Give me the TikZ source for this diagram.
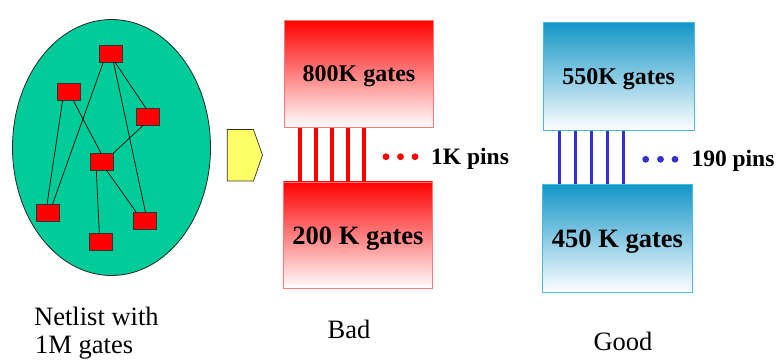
\documentclass[tikz,border=0pt]{standalone}
\usepackage{fontspec}
\setmainfont{Liberation Serif}
\usetikzlibrary{calc,shapes.geometric}

\definecolor{netgreen}{RGB}{0,204,153}
\definecolor{gatered}{RGB}{255,0,0}
\definecolor{redrim}{RGB}{255,120,120}
\definecolor{bluetop}{RGB}{20,150,200}
\definecolor{bluerim}{RGB}{70,185,230}
\definecolor{pinblue}{RGB}{51,51,204}
\definecolor{arrowyellow}{RGB}{255,255,102}

\tikzset{
  cell/.style={draw=black!80, line width=0.6pt, fill=gatered, minimum width=23pt, minimum height=17pt, inner sep=0pt},
  net/.style={draw=black, line width=0.7pt},
  redpart/.style={draw=redrim, line width=0.8pt, top color=gatered, bottom color=white, inner sep=0pt, text depth=0pt},
  bluepart/.style={draw=bluerim, line width=0.8pt, top color=bluetop, bottom color=white, inner sep=0pt, text depth=0pt},
  redpin/.style={draw=gatered, line width=3.6pt},
  bluepin/.style={draw=pinblue, line width=3.6pt},
  caption/.style={inner sep=0pt, anchor=base, font=\fontsize{26.5}{28}\selectfont},
  pinlabel/.style={inner sep=0pt, anchor=base west, font=\fontsize{23.5}{26}\selectfont\bfseries}
}

\begin{document}
\begin{tikzpicture}[x=1pt, y=-1pt]
\useasboundingbox (0,0) rectangle (780,362);

% ---- netlist: a cloud of gates ----
\node[draw=black!85, line width=0.8pt, fill=netgreen, ellipse, minimum width=198pt, minimum height=256pt, inner sep=0pt] (cloud) at (111.5,147.5) {};

\node[cell] (gA) at (110.5,53.7) {};
\node[cell] (gB) at (68.7,92) {};
\node[cell] (gC) at (147.7,116.5) {};
\node[cell] (gD) at (101.5,162) {};
\node[cell] (gE) at (47.3,213) {};
\node[cell] (gF) at (144.5,221) {};
\node[cell] (gG) at (100.7,241.5) {};

\draw[net] ($(gA.south west)!0.19!(gA.south east)$) -- ($(gE.north west)!0.72!(gE.north east)$);
\draw[net] ($(gA.south west)!0.63!(gA.south east)$) -- ($(gF.north west)!0.54!(gF.north east)$);
\draw[net] ($(gA.south west)!0.70!(gA.south east)$) -- ($(gC.north west)!0.41!(gC.north east)$);
\draw[net] ($(gB.south west)!0.24!(gB.south east)$) -- ($(gE.north west)!0.49!(gE.north east)$);
\draw[net] ($(gB.south west)!0.70!(gB.south east)$) -- ($(gD.north west)!0.48!(gD.north east)$);
\draw[net] ($(gC.south west)!0.31!(gC.south east)$) -- (gD.north east);
\draw[net] ($(gD.south west)!0.28!(gD.south east)$) -- ($(gG.north west)!0.44!(gG.north east)$);
\draw[net] ($(gD.south west)!0.73!(gD.south east)$) -- ($(gF.north west)!0.15!(gF.north east)$);

% ---- arrow to the partitions ----
\draw[draw=black!80, line width=0.7pt, fill=arrowyellow]
  (227.3,129.5) -- (253.5,129.5) -- (262.5,155.2) -- (253.5,181) -- (227.3,181) -- cycle;

% ---- bad partition ----
\node[redpart, minimum width=149.4pt, minimum height=107.3pt, font=\fontsize{24}{26}\selectfont\bfseries] (badTop) at (359,73.7) {800K gates};
\node[redpart, minimum width=149.4pt, minimum height=106.7pt, font=\fontsize{26.5}{28}\selectfont\bfseries] (badBot) at (358,235.3) {200 K gates};
\foreach \dx in {16,32,48.2,64.2,80} {
  \path ([xshift=\dx pt]badTop.south west) coordinate (rp);
  \draw[redpin] (rp) -- (rp |- badBot.north);
}
\foreach \px in {386,400.5,415} \fill[gatered] (\px,156.7) circle (3.4pt);
\node[pinlabel] (badPins) at (431,164) {1K pins};

% ---- good partition ----
\node[bluepart, minimum width=150.7pt, minimum height=108pt, font=\fontsize{24}{26}\selectfont\bfseries] (goodTop) at (618.6,76.7) {550K gates};
\node[bluepart, minimum width=149.6pt, minimum height=108.4pt, font=\fontsize{26.5}{28}\selectfont\bfseries] (goodBot) at (617.5,238.5) {450 K gates};
\foreach \dx in {16.7,32.7,48.7,64.7,80.7} {
  \path ([xshift=\dx pt]goodTop.south west) coordinate (bp);
  \draw[bluepin] (bp) -- (bp |- goodBot.north);
}
\foreach \px in {645.7,660.5,675} \fill[pinblue] (\px,159.3) circle (3.4pt);
\node[pinlabel] (goodPins) at (691.3,166.7) {190 pins};

% ---- captions ----
\node[caption, anchor=base west] (capNetA) at (34,325) {Netlist with};
\node[caption, anchor=base west] (capNetB) at (35,353) {1M gates};
\node[caption] (capBad) at (349,338) {Bad};
\node[caption] (capGood) at (623,350) {Good};
\end{tikzpicture}
\end{document}
